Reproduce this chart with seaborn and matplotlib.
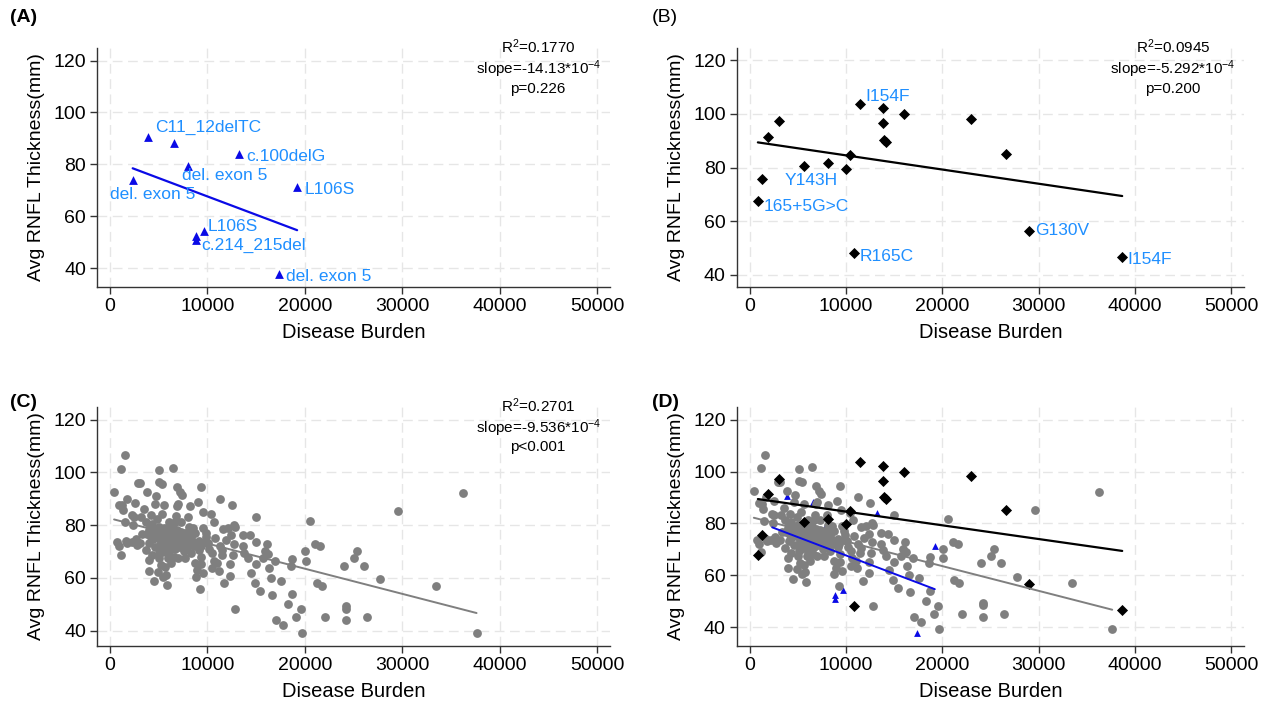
import numpy as np
import pandas as pd
import matplotlib
matplotlib.use("Agg")
import matplotlib.pyplot as plt
import seaborn as sns

# (A) triangles
a_x = [3900, 6540, 13250, 7960, 2330, 19210, 9670, 8830, 8830, 17375]
a_y = [90.4, 88.4, 83.9, 79.4, 73.9, 71.3, 54.3, 52.5, 51.0, 37.8]
a_lab = ["C11_12delTC", "", "c.100delG", "del. exon 5", "del. exon 5",
         "L106S", "L106S", "", "c.214_215del", "del. exon 5"]

# (B) diamonds
b_x = [838, 1215, 1927, 3017, 5615, 8087, 9972, 10390, 11397, 13785,
       13785, 13950, 14160, 15960, 22960, 26600, 29000, 10810, 38670]
b_y = [67.7, 75.6, 91.3, 97.2, 80.7, 81.7, 79.6, 84.6, 103.7, 102.2,
       96.5, 90.3, 89.4, 100.0, 98.2, 85.2, 56.5, 48.0, 46.5]
b_lab = ["165+5G>C", "", "", "", "Y143H", "", "", "", "I154F", "",
         "", "", "", "", "", "", "G130V", "R165C", "I154F"]

# (C) circles
c_x = [36250, 29580, 20540, 33500, 37630, 27750, 25380, 25080, 26080, 24000,
       24250, 24250, 24210, 26420, 22080, 21750, 21250, 21080, 21580, 20040,
       20080, 19670, 19580, 19080, 18290, 18670, 18710, 18630, 17790, 17040,
       17540, 16920, 16500, 16630, 16290, 16080, 15880, 16170, 15750, 15420,
       15000, 14920, 14960, 14960, 14460, 14370, 13670, 13630, 13790, 14170,
       12790, 12500, 12420, 12710, 12630, 12330, 12330, 12710, 12830, 11710,
       12080, 11880, 11580, 11250, 11460, 11170, 11000, 11250, 10710, 10420,
       10460, 10630, 10460, 10080, 9830, 9580, 9380, 9500, 9250, 9040,
       9170, 9170, 9330, 9380, 8960, 8790, 8500, 8330, 8250, 8170,
       8040, 7750, 7580, 7420, 7170, 7000, 6880, 6830, 6790, 6830,
       6750, 6960, 6420, 6380, 6250, 6210, 6170, 5960, 5880, 5710,
       5630, 5580, 5420, 5330, 5210, 5080, 5080, 5380, 5040, 5080,
       5080, 5000, 4920, 4830, 4710, 4580, 4500, 4420, 4290, 4290,
       4210, 4040, 4000, 3960, 3830, 3750, 3670, 3540, 3210, 3130,
       2920, 2750, 2620, 2540, 2500, 2375, 2290, 2210, 1790, 1710,
       1670, 1540, 1375, 1250, 1125, 1125, 960, 920, 710, 420,
       1500, 5830, 6540, 7290, 6040, 4580, 5210, 5630, 7080, 7710,
       8750, 9790, 8330, 7710, 9580, 8750, 6250, 6670, 4870, 3960,
       3330, 6250, 5420, 4170, 7290, 8120, 3100, 4700, 5200, 5500,
       5900, 6100, 6500, 6900, 7300, 7600, 8000, 8400, 8900, 9300,
       9900, 10200, 5300, 5800, 6400, 6700, 7400, 4400, 4100, 4900,
       6000, 6600, 7900, 8600, 10800, 11500, 3700]
c_y = [92.1, 85.2, 81.6, 57.0, 39.1, 59.5, 70.2, 67.6, 64.6, 64.6,
       49.2, 48.4, 44.0, 45.0, 45.0, 57.0, 58.2, 72.7, 72.2, 70.2,
       66.6, 39.1, 48.1, 45.0, 50.1, 54.0, 67.1, 64.6, 42.1, 44.0,
       59.0, 66.6, 60.1, 53.5, 63.6, 72.7, 70.2, 69.1, 67.6, 55.0,
       65.1, 58.0, 73.7, 83.1, 62.0, 76.1, 76.2, 72.2, 69.6, 67.6,
       48.1, 87.7, 76.1, 72.7, 68.6, 65.1, 60.7, 80.2, 79.5, 57.9,
       79.0, 74.4, 78.7, 72.2, 68.6, 62.6, 65.6, 90.1, 81.3, 84.2,
       69.3, 66.6, 63.6, 73.3, 77.2, 79.1, 94.5, 85.0, 55.9, 88.7,
       74.1, 70.7, 68.0, 65.1, 62.9, 60.4, 79.1, 75.6, 73.2, 87.2,
       83.1, 73.3, 70.2, 91.4, 92.6, 88.2, 94.5, 87.3, 83.3, 75.6,
       73.1, 67.4, 101.7, 79.7, 78.1, 74.1, 70.5, 67.4, 57.3, 61.1,
       64.0, 87.6, 75.2, 84.3, 64.9, 100.8, 96.3, 95.8, 79.4, 72.2,
       69.5, 67.4, 62.3, 77.5, 91.0, 88.2, 58.7, 74.7, 68.6, 80.6,
       83.8, 73.1, 66.7, 62.7, 92.6, 76.8, 81.3, 86.1, 83.1, 73.4,
       96.0, 72.3, 74.9, 88.6, 83.1, 80.2, 83.7, 73.7, 73.1, 90.1,
       73.9, 106.5, 85.7, 87.6, 101.2, 68.8, 72.2, 87.8, 73.6, 92.6,
       81.1, 76.0, 76.0, 77.5, 81.3, 71.8, 73.7, 71.8, 71.8, 77.0,
       77.0, 73.7, 69.3, 67.4, 61.7, 65.5, 75.2, 81.3, 82.5, 78.1,
       76.8, 65.5, 60.4, 75.6, 81.3, 79.4, 96.1, 78.5, 77.0, 78.8,
       79.0, 77.2, 78.5, 78.0, 75.0, 74.5, 76.5, 74.0, 72.5, 72.0,
       75.5, 71.0, 70.0, 73.0, 72.5, 71.0, 73.5, 77.0, 80.0, 75.0,
       69.0, 68.0, 71.5, 72.0, 75.0, 70.5, 70.5]

# reported fits
a_fit = (-14.13e-4, 81.76)
b_fit = (-5.292e-4, 89.84)
c_fit = (-9.536e-4, 82.58)
a_stats = [r"R$^2$=0.1770", r"slope=-14.13*10$^{-4}$", "p=0.226"]
b_stats = [r"R$^2$=0.0945", r"slope=-5.292*10$^{-4}$", "p=0.200"]
c_stats = [r"R$^2$=0.2701", r"slope=-9.536*10$^{-4}$", "p<0.001"]

x_ticks = [0, 10000, 20000, 30000, 40000, 50000]
y_ticks = [40, 60, 80, 100, 120]

# label offsets in points (layout only)
a_off = [(5, 7), None, (5, -2), (-4, -7), (-16, -10), (5.5, -2), (2.5, 3.5), None, (4, -4), (5, -2)]
b_off = [(4, -4), None, None, None, (5, -10.5), None, None, None, (4, 5.5), None,
         None, None, None, None, None, None, (4, 0), (4, -2), (4, -1.5)]

sns.set_theme(style="ticks")
plt.rcParams['font.family'] = ['Liberation Sans', 'DejaVu Sans']
plt.rcParams['mathtext.fontset'] = 'custom'
plt.rcParams['mathtext.rm'] = 'Liberation Sans'
plt.rcParams['mathtext.it'] = 'Liberation Sans:italic'
plt.rcParams['text.color'] = 'black'
plt.rcParams['axes.labelcolor'] = 'black'

BLUE = '#0a0ae6'
LBLUE = '#1f8fff'
GRAY = '#7f7f7f'

df_a = pd.DataFrame({'x': a_x, 'y': a_y})
df_b = pd.DataFrame({'x': b_x, 'y': b_y})
df_c = pd.DataFrame({'x': c_x, 'y': c_y})


def fit_line(df, fit):
    xs = np.array([df['x'].min(), df['x'].max()])
    return pd.DataFrame({'x': xs, 'y': fit[1] + fit[0] * xs})


def style(ax, ylim):
    ax.set_xlim(-1333, 51333)
    ax.set_ylim(*ylim)
    ax.set_xticks(x_ticks)
    ax.set_yticks(y_ticks)
    ax.grid(True, color='#e6e6e6', linestyle=(0, (7, 4)), linewidth=1)
    ax.set_axisbelow(True)
    sns.despine(ax=ax)
    for s in ['left', 'bottom']:
        ax.spines[s].set_color('#333333')
        ax.spines[s].set_linewidth(1)
    ax.tick_params(direction='out', length=5, width=1, color='#333333', labelcolor='black',
                   labelsize=14, pad=3)
    ax.set_xlabel('Disease Burden', fontsize=14.5, labelpad=6)
    ax.set_ylabel('Avg RNFL Thickness(mm)', fontsize=14, labelpad=6)


def stats_text(ax, lines):
    ax.text(0.86, 1.045, "\n".join(lines), transform=ax.transAxes, ha='center', va='top',
            fontsize=11, linespacing=1.15, clip_on=False)


def labels(ax, df, labs, offs):
    for i, t in enumerate(labs):
        if not t:
            continue
        ha = 'center' if t == 'Y143H' else 'left'
        ax.annotate(t, (df['x'][i], df['y'][i]), xytext=offs[i], textcoords='offset points',
                    ha=ha, va='center', color=LBLUE, fontsize=12.5)


fig = plt.figure(figsize=(12.68, 7.07), dpi=100)
axA = fig.add_axes([0.0765, 0.594, 0.4046, 0.338])
axB = fig.add_axes([0.5812, 0.594, 0.400, 0.338])
axC = fig.add_axes([0.0765, 0.0863, 0.4046, 0.338])
axD = fig.add_axes([0.5812, 0.0863, 0.400, 0.338])

# (A)
sns.scatterplot(data=df_a, x='x', y='y', ax=axA, marker='^', s=40, color=BLUE, edgecolor=BLUE, linewidth=0)
sns.lineplot(data=fit_line(df_a, a_fit), x='x', y='y', ax=axA, color=BLUE, linewidth=1.6)
labels(axA, df_a, a_lab, a_off)
style(axA, (32.7, 124.8))
stats_text(axA, a_stats)

# (B)
sns.scatterplot(data=df_b, x='x', y='y', ax=axB, marker='D', s=32, color='black', edgecolor='black', linewidth=0)
sns.lineplot(data=fit_line(df_b, b_fit), x='x', y='y', ax=axB, color='black', linewidth=1.6)
labels(axB, df_b, b_lab, b_off)
style(axB, (35.4, 124.6))
stats_text(axB, b_stats)

# (C)
sns.scatterplot(data=df_c, x='x', y='y', ax=axC, marker='o', s=40, color=GRAY, edgecolor=GRAY, linewidth=0)
sns.lineplot(data=fit_line(df_c, c_fit), x='x', y='y', ax=axC, color=GRAY, linewidth=1.4)
style(axC, (34.2, 124.8))
stats_text(axC, c_stats)

# (D) combined
sns.scatterplot(data=df_a, x='x', y='y', ax=axD, marker='^', s=24, color=BLUE, edgecolor=BLUE, linewidth=0)
sns.scatterplot(data=df_c, x='x', y='y', ax=axD, marker='o', s=40, color=GRAY, edgecolor=GRAY, linewidth=0)
sns.scatterplot(data=df_b, x='x', y='y', ax=axD, marker='D', s=32, color='black', edgecolor='black', linewidth=0)
sns.lineplot(data=fit_line(df_b, b_fit), x='x', y='y', ax=axD, color='black', linewidth=1.6)
sns.lineplot(data=fit_line(df_c, c_fit), x='x', y='y', ax=axD, color=GRAY, linewidth=1.4)
sns.lineplot(data=fit_line(df_a, a_fit), x='x', y='y', ax=axD, color=BLUE, linewidth=1.4)
style(axD, (32.7, 124.9))

fig.text(0.008, 0.975, '(A)', fontsize=14, fontweight='bold', va='center')
fig.text(0.514, 0.975, '(B)', fontsize=14, va='center')
fig.text(0.008, 0.43, '(C)', fontsize=14, fontweight='bold', va='center')
fig.text(0.514, 0.43, '(D)', fontsize=14, fontweight='bold', va='center')

fig.savefig('out.png', dpi=100)
